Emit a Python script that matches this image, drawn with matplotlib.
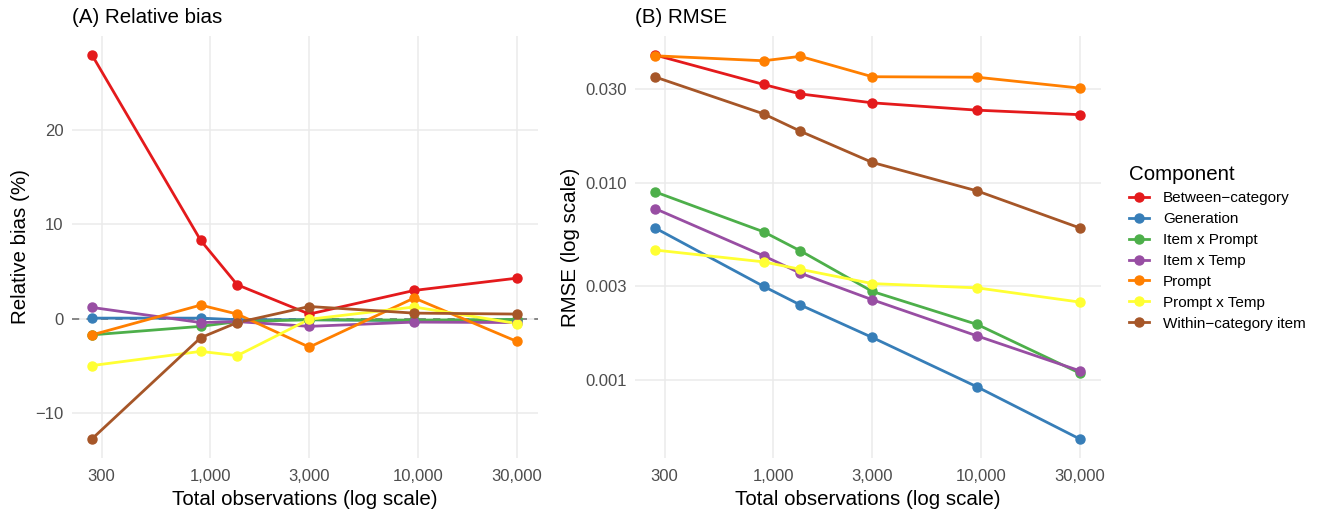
import matplotlib.pyplot as plt
from matplotlib.lines import Line2D

plt.rcParams['font.family'] = ['Liberation Sans', 'DejaVu Sans']

# Total observations per design
n_obs = [270, 900, 1350, 3000, 9600, 30000]

components = ["Between\u2212category", "Generation", "Item x Prompt", "Item x Temp",
              "Prompt", "Prompt x Temp", "Within\u2212category item"]
colors = ["#E41A1C", "#377EB8", "#4DAF4A", "#984EA3", "#FF7F00", "#FFFF33", "#A65628"]

# Relative bias (%)
bias_between = [27.9, 8.3, 3.6, 0.5, 3.0, 4.3]
bias_generation = [0.07, 0.07, -0.1, -0.1, -0.2, -0.1]
bias_item_prompt = [-1.7, -0.8, -0.3, -0.1, -0.15, -0.07]
bias_item_temp = [1.2, -0.4, -0.3, -0.8, -0.35, -0.4]
bias_prompt = [-1.7, 1.45, 0.5, -3.0, 2.2, -2.4]
bias_prompt_temp = [-4.95, -3.45, -3.9, -0.05, 1.25, -0.5]
bias_within = [-12.7, -2.0, -0.4, 1.3, 0.6, 0.5]

# RMSE
rmse_between = [0.0446, 0.0316, 0.0283, 0.0255, 0.0234, 0.0222]
rmse_generation = [0.0059, 0.00298, 0.0024, 0.00164, 0.00092, 0.0005]
rmse_item_prompt = [0.0090, 0.00564, 0.00452, 0.00281, 0.00191, 0.00108]
rmse_item_temp = [0.0074, 0.00426, 0.00348, 0.00255, 0.00167, 0.00111]
rmse_prompt = [0.0442, 0.0417, 0.0439, 0.0346, 0.0344, 0.0303]
rmse_prompt_temp = [0.00456, 0.00397, 0.00364, 0.00308, 0.00293, 0.00248]
rmse_within = [0.0345, 0.0224, 0.0183, 0.0127, 0.0091, 0.0059]

bias = [bias_between, bias_generation, bias_item_prompt, bias_item_temp,
        bias_prompt, bias_prompt_temp, bias_within]
rmse = [rmse_between, rmse_generation, rmse_item_prompt, rmse_item_temp,
        rmse_prompt, rmse_prompt_temp, rmse_within]

x_ticks = [300, 1000, 3000, 10000, 30000]
x_labels = ["300", "1,000", "3,000", "10,000", "30,000"]


def style_axis(ax):
    for s in ax.spines.values():
        s.set_visible(False)
    ax.grid(True, which="major", color="#EBEBEB", linewidth=1.1)
    ax.set_axisbelow(True)
    ax.tick_params(length=0, labelsize=12, labelcolor="#4D4D4D", pad=6)
    ax.tick_params(axis="x", pad=8)
    ax.set_xscale("log")
    ax.set_xticks(x_ticks)
    ax.set_xticklabels(x_labels)
    ax.minorticks_off()
    ax.set_xlim(216, 37900)
    ax.set_xlabel("Total observations (log scale)", fontsize=14.8, labelpad=4)


fig = plt.figure(figsize=(13.18, 5.14), dpi=100)
ax1 = fig.add_axes([0.0546, 0.109, 0.3536, 0.821])
ax2 = fig.add_axes([0.4818, 0.109, 0.3536, 0.821])

# (A) Relative bias
style_axis(ax1)
ax1.axhline(0, color="#7F7F7F", linestyle=(0, (4, 4)), linewidth=1.3, zorder=1)
for vals, c in zip(bias, colors):
    ax1.plot(n_obs, vals, color=c, linewidth=2, zorder=2)
for vals, c in zip(bias, colors):
    ax1.plot(n_obs, vals, "o", color=c, markersize=6.5, zorder=3)
ax1.set_ylim(-14.73, 29.93)
ax1.set_yticks([-10, 0, 10, 20])
ax1.set_yticklabels(["\u221210", "0", "10", "20"])
ax1.set_ylabel("Relative bias (%)", fontsize=14.8, labelpad=4)
ax1.set_title("(A) Relative bias", loc="left", fontsize=14.8, pad=9)

# (B) RMSE
style_axis(ax2)
for vals, c in zip(rmse, colors):
    ax2.plot(n_obs, vals, color=c, linewidth=2, zorder=2)
for vals, c in zip(rmse, colors):
    ax2.plot(n_obs, vals, "o", color=c, markersize=6.5, zorder=3)
ax2.set_yscale("log")
ax2.set_ylim(10 ** -3.397, 10 ** -1.254)
ax2.set_yticks([0.001, 0.003, 0.01, 0.03])
ax2.set_yticklabels(["0.001", "0.003", "0.010", "0.030"])
ax2.minorticks_off()
ax2.set_ylabel("RMSE (log scale)", fontsize=14.8, labelpad=4)
ax2.set_title("(B) RMSE", loc="left", fontsize=14.8, pad=9)

handles = [Line2D([0], [0], color=c, linewidth=2, marker="o", markersize=6.5)
           for c in colors]
leg = fig.legend(handles, components, loc="upper left", bbox_to_anchor=(0.8465, 0.705),
                 frameon=False, title="Component", title_fontsize=14.8, fontsize=11,
                 handlelength=1.3, handletextpad=0.9, labelspacing=0.45,
                 alignment="left")

fig.savefig("out.png", dpi=100)
